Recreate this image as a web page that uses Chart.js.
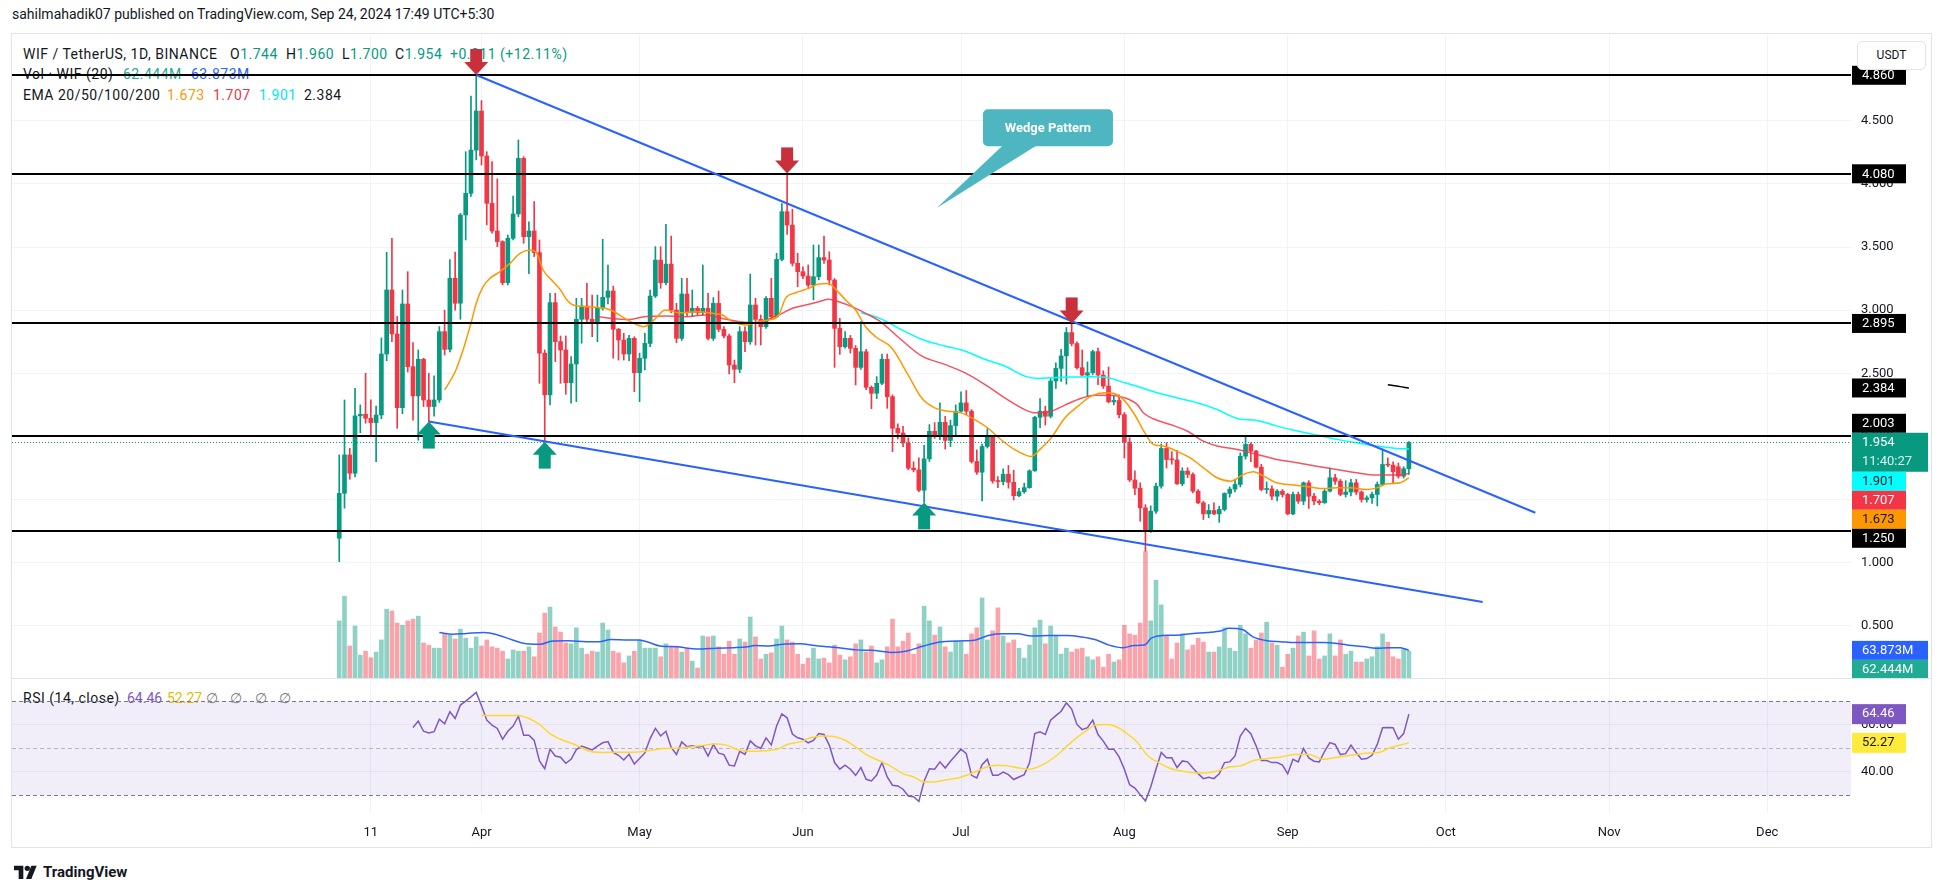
<!DOCTYPE html>
<html>
<head>
<meta charset="utf-8">
<title>WIF / TetherUS 1D</title>
<script src="https://cdn.jsdelivr.net/npm/chart.js@4.4.1/dist/chart.umd.min.js"></script>
<style>
  html, body { margin: 0; padding: 0; background: #fff; }
  body { width: 1946px; height: 893px; position: relative; overflow: hidden; font-family: Roboto, sans-serif; color: #131722; }
  .abs { position: absolute; white-space: nowrap; }
  #byline { left: 12px; top: 6px; font-size: 14px; }
  #frame { left: 11px; top: 33px; width: 1921px; height: 815px; border: 1px solid #e0e3eb; box-sizing: border-box; }
  #sep { left: 12px; top: 678px; width: 1920px; height: 1px; background: #e0e3eb; }
  canvas { position: absolute; z-index: 2; }
  #priceCanvas { left: 12px; top: 35px; }
  #rsiCanvas { left: 12px; top: 678px; }
  .legend { left: 0; font-size: 14px; line-height: 16px; letter-spacing: 0.5px; z-index: 1; }
  .legend span { position: absolute; top: 0; }
  #usdt { left: 1857px; top: 41px; width: 69px; height: 29px; border: 1px solid #e0e3eb; border-radius: 5px; background: #fff;
          box-sizing: border-box; font-size: 12px; line-height: 27px; text-align: center; z-index: 3; }
  #logo { left: 14px; top: 863px; font-size: 15px; font-weight: 700; z-index: 3; }
  #logo svg { vertical-align: -2px; margin-right: 5px; }
</style>
</head>
<body>
<div id="byline" class="abs">sahilmahadik07 published on TradingView.com, Sep 24, 2024 17:49 UTC+5:30</div>
<div id="frame" class="abs"></div>
<div id="sep" class="abs"></div>

<div class="abs legend" style="top:46px">
  <span style="left:23px">WIF / TetherUS, 1D, BINANCE</span>
  <span style="left:230px">O<b id="lgO" style="font-weight:400;color:#089981"></b></span>
  <span style="left:286px">H<b id="lgH" style="font-weight:400;color:#089981"></b></span>
  <span style="left:342px">L<b id="lgL" style="font-weight:400;color:#089981"></b></span>
  <span style="left:395px">C<b id="lgC" style="font-weight:400;color:#089981"></b></span>
  <span style="left:450px;color:#089981">+0.211 (+12.11%)</span>
</div>
<div class="abs legend" style="top:66px">
  <span style="left:23px">Vol · WIF (20)</span>
  <span style="left:123px;color:#22ab94">62.444M</span>
  <span style="left:191px;color:#2962ff">63.873M</span>
</div>
<div class="abs legend" style="top:87px">
  <span style="left:23px">EMA 20/50/100/200</span>
  <span id="lgE20" style="left:167px;color:#ff9800"></span>
  <span id="lgE50" style="left:213px;color:#f23645"></span>
  <span id="lgE100" style="left:259px;color:#00e5ff"></span>
  <span id="lgE200" style="left:304px;color:#131722"></span>
</div>
<div class="abs legend" style="top:690px">
  <span style="left:23px">RSI (14, close)</span>
  <span id="lgRsi" style="left:127px;color:#7e57c2;letter-spacing:0"></span>
  <span id="lgRsiMa" style="left:167px;color:#e0c000;letter-spacing:0"></span>
  <span style="left:206px;color:#787b86;word-spacing:8px">∅ ∅ ∅ ∅</span>
</div>

<canvas id="priceCanvas" width="1920" height="643"></canvas>
<canvas id="rsiCanvas" width="1920" height="170"></canvas>
<div id="usdt" class="abs">USDT</div>
<div id="logo" class="abs"><svg width="24" height="14" viewBox="0 0 36 21"><path d="M14 21H7V8H0V1h14z" fill="#131722"/><circle cx="20" cy="5" r="4" fill="#131722"/><path d="M26 21h-8l8-20h8z" fill="#131722"/></svg>TradingView</div>

<script>
// daily candles, index 0 = 2024-03-05, last index = 2024-09-24
const opens = [1.194,1.55,1.854,1.709,2.163,2.176,2.144,2.11,2.17,2.653,
  3.16,2.812,2.228,3.049,2.553,2.321,2.611,2.289,2.237,2.289,
  2.83,2.69,3.253,3.055,3.754,3.925,4.268,4.577,4.221,3.846,
  3.627,3.543,3.218,3.569,3.762,4.202,3.582,3.627,3.456,2.659,
  2.329,3.06,2.751,2.685,2.426,2.574,2.928,3.033,2.928,2.91,
  3.015,3.102,3.152,2.849,2.764,2.653,2.777,2.505,2.619,2.737,
  3.112,3.397,3.218,3.365,3.001,2.777,3.128,2.98,3.015,2.98,
  3.015,2.777,3.054,2.848,2.796,2.566,2.532,2.83,2.751,3.041,
  2.927,2.869,3.094,2.948,3.402,3.78,3.674,3.371,3.305,3.27,
  3.199,3.265,3.416,3.397,3.239,2.856,2.711,2.777,2.698,2.547,
  2.671,2.389,2.342,2.421,2.611,2.315,2.065,2.028,1.948,1.749,
  1.736,1.574,1.823,2.041,2.001,2.112,1.969,2.086,2.2,2.266,
  2.2,1.802,1.717,1.921,2.001,1.648,1.643,1.701,1.637,1.531,
  1.563,1.595,1.728,2.152,2.2,2.16,2.439,2.539,2.638,2.823,
  2.736,2.545,2.486,2.505,2.672,2.486,2.399,2.274,2.285,2.173,
  1.956,1.656,1.59,1.435,1.25,1.408,1.607,1.905,1.818,1.815,
  1.625,1.726,1.699,1.567,1.475,1.387,1.414,1.387,1.422,1.549,
  1.583,1.62,1.844,1.937,1.884,1.757,1.58,1.585,1.527,1.567,
  1.541,1.387,1.541,1.488,1.633,1.527,1.488,1.475,1.567,1.673,
  1.646,1.541,1.56,1.633,1.56,1.501,1.514,1.541,1.62,1.778,
  1.773,1.76,1.686,1.744];
const highs = [1.854,2.289,1.907,2.382,2.25,2.50,2.29,2.24,2.78,3.458,
  3.569,2.95,3.16,3.305,2.743,2.685,2.62,2.50,2.48,2.87,
  3.0,3.40,3.46,3.767,4.255,4.696,4.862,4.66,4.255,4.176,
  4.04,3.55,3.595,3.904,4.348,4.216,3.70,3.86,3.556,2.685,
  3.134,3.134,2.796,2.796,2.632,3.094,3.094,3.213,3.12,3.12,
  3.561,3.358,3.19,2.856,2.817,2.80,2.79,2.66,2.817,3.16,
  3.503,3.503,3.68,3.587,3.054,3.252,3.252,3.16,3.03,3.358,
  3.133,3.1,3.152,2.87,2.81,2.605,2.869,2.869,3.286,3.094,
  2.962,3.107,3.252,3.45,3.845,4.083,3.80,3.45,3.344,3.358,
  3.516,3.516,3.587,3.463,3.25,2.935,2.83,2.80,2.72,2.909,
  2.69,2.40,2.474,2.653,2.653,2.33,2.10,2.08,1.99,1.80,
  1.83,1.93,2.094,2.11,2.266,2.16,2.13,2.25,2.354,2.364,
  2.213,1.894,1.94,2.062,2.009,1.683,1.744,1.77,1.733,1.59,
  1.63,1.736,2.16,2.30,2.24,2.465,2.584,2.69,2.863,2.895,
  2.75,2.685,2.59,2.683,2.70,2.52,2.55,2.32,2.33,2.19,
  1.99,1.728,1.633,1.46,1.45,1.63,1.94,1.95,1.88,1.89,
  1.752,1.752,1.712,1.58,1.488,1.461,1.475,1.448,1.554,1.60,
  1.66,1.87,2.003,1.95,1.89,1.78,1.64,1.61,1.58,1.58,
  1.55,1.56,1.56,1.64,1.65,1.55,1.50,1.58,1.75,1.70,
  1.66,1.65,1.66,1.66,1.57,1.53,1.56,1.64,1.90,1.83,
  1.80,1.79,1.76,1.96];
const lows = [1.009,1.432,1.661,1.68,2.03,2.105,2.0,1.80,2.14,2.6,
  2.75,2.065,2.18,2.51,2.13,1.97,2.237,2.118,2.16,2.27,
  2.645,2.67,3.0,2.928,3.556,3.9,4.19,4.15,3.675,3.61,
  3.503,3.20,3.20,3.556,3.74,3.53,3.29,3.424,2.421,1.959,
  2.25,2.593,2.421,2.334,2.263,2.276,2.738,2.91,2.79,2.75,
  3.0,3.05,2.62,2.605,2.605,2.6,2.355,2.276,2.526,2.711,
  3.1,3.173,3.2,2.98,2.743,2.76,2.954,2.95,2.96,2.96,
  2.764,2.76,2.83,2.78,2.495,2.426,2.505,2.671,2.73,2.724,
  2.724,2.856,2.93,2.94,3.39,3.6,3.35,3.186,3.25,3.18,
  3.081,3.24,3.37,3.2,2.547,2.65,2.7,2.66,2.408,2.53,
  2.37,2.22,2.3,2.41,2.223,1.88,1.98,1.92,1.736,1.72,
  1.563,1.478,1.802,1.985,1.975,1.90,1.92,2.01,2.19,2.173,
  1.79,1.70,1.489,1.908,1.63,1.595,1.616,1.59,1.497,1.523,
  1.55,1.59,1.723,2.07,2.09,2.147,2.38,2.436,2.414,2.717,
  2.532,2.48,2.32,2.49,2.41,2.38,2.266,2.25,2.147,1.83,
  1.643,1.54,1.33,1.09,1.24,1.39,1.59,1.75,1.78,1.62,
  1.61,1.673,1.554,1.467,1.342,1.356,1.38,1.32,1.41,1.52,
  1.56,1.60,1.82,1.80,1.75,1.57,1.55,1.50,1.49,1.52,
  1.38,1.38,1.47,1.46,1.43,1.46,1.46,1.47,1.56,1.62,
  1.53,1.52,1.53,1.54,1.48,1.48,1.47,1.45,1.61,1.76,
  1.63,1.67,1.67,1.70];
const closes = [1.55,1.854,1.709,2.163,2.176,2.144,2.11,2.17,2.653,3.16,
  2.812,2.228,3.049,2.553,2.321,2.611,2.289,2.237,2.289,2.83,
  2.69,3.253,3.055,3.754,3.925,4.268,4.577,4.221,3.846,3.627,
  3.543,3.218,3.569,3.762,4.202,3.582,3.627,3.456,2.659,2.329,
  3.06,2.751,2.685,2.426,2.574,2.928,3.033,2.928,2.91,3.015,
  3.102,3.152,2.849,2.764,2.653,2.777,2.505,2.619,2.737,3.112,
  3.397,3.218,3.365,3.001,2.777,3.128,2.98,3.015,2.98,3.015,
  2.777,3.054,2.848,2.796,2.566,2.532,2.83,2.751,3.041,2.927,
  2.869,3.094,2.948,3.402,3.78,3.674,3.371,3.305,3.27,3.199,
  3.265,3.416,3.397,3.239,2.856,2.711,2.777,2.698,2.547,2.671,
  2.389,2.342,2.421,2.611,2.315,2.065,2.028,1.948,1.749,1.736,
  1.574,1.823,2.041,2.001,2.112,1.969,2.086,2.2,2.266,2.2,
  1.802,1.717,1.921,2.001,1.648,1.643,1.701,1.637,1.531,1.563,
  1.595,1.728,2.152,2.2,2.16,2.439,2.539,2.638,2.823,2.736,
  2.545,2.486,2.505,2.672,2.486,2.399,2.274,2.285,2.173,1.956,
  1.656,1.59,1.435,1.25,1.408,1.607,1.905,1.818,1.815,1.625,
  1.726,1.699,1.567,1.475,1.387,1.414,1.387,1.422,1.549,1.583,
  1.62,1.844,1.937,1.884,1.757,1.58,1.585,1.527,1.567,1.541,
  1.387,1.541,1.488,1.633,1.527,1.488,1.475,1.567,1.673,1.646,
  1.541,1.56,1.633,1.56,1.501,1.514,1.541,1.62,1.778,1.773,
  1.72,1.686,1.744,1.954];
// volume in millions
const volumes = [132,189,74,120,53,62,47,60,88,159,
  155,127,122,132,136,143,81,76,69,69,
  102,99,90,113,92,69,95,74,88,72,
  69,62,44,65,62,62,72,49,104,150,
  164,118,106,81,79,116,69,55,62,60,
  127,111,62,58,35,51,62,88,69,69,
  69,49,79,72,72,60,67,39,23,97,
  95,97,72,55,85,55,90,83,141,95,
  44,55,58,90,120,88,83,55,32,46,
  69,44,46,35,76,53,42,49,79,88,
  60,74,35,42,72,136,72,85,104,55,
  79,166,132,99,118,72,60,85,85,55,
  102,116,185,88,109,162,97,81,88,69,
  46,76,116,134,79,120,99,55,69,60,
  67,69,49,42,49,25,55,37,42,122,
  102,99,127,292,132,226,169,99,44,81,
  102,65,76,92,83,60,60,72,116,69,
  62,122,102,69,88,104,129,81,76,25,
  55,69,97,106,51,109,44,51,102,51,
  88,55,62,37,37,44,49,72,102,83,
  49,44,67,62.444];
// indicator lines: [day index, value]
const volMa = [[19,105],[21.5,101],[24.2,103],[27.5,105],[30.2,99],[32.9,88],[35.5,79],[38.2,78],[40.2,85],[43.5,86],
  [46.9,84],[49.5,84],[51.5,89],[54.9,88],[56.9,88],[58.8,82],[60.9,74],[64.2,72],[66.2,69],[68.9,67],[71.5,69],
  [74.8,70],[77.5,72],[78.8,75],[81.5,74],[84.2,78],[87.5,79],[90.2,75],[92.8,72],[95.5,69],[98.2,65],[100.8,64],
  [102.8,62],[104.8,59],[107.5,62],[110.9,74],[113.5,82],[116.1,85],[118.8,86],[120.8,88],[123.4,99],[126,102],
  [128.8,102],[131.4,97],[134.8,98],[138.1,98],[140.8,95],[143.4,89],[146.1,76],[148.8,70],[150.8,75],[152.8,76],
  [154.1,92],[156.1,98],[158.8,99],[162.1,103],[164.8,105],[167.4,109],[168.8,115],[171.4,112],[173.4,95],
  [176.1,86],[178.7,84],[181.4,82],[184,82],[186.7,82],[189.4,80],[192.1,75],[194.7,72],[196.7,69],[199.4,70],
  [201.4,70],[203,63.873]];
const ema20 = [[20,2.368],[22,2.513],[23.5,2.685],[25,2.896],[26,3.055],[27.3,3.186],[28.6,3.252],[30.5,3.305],
  [32.4,3.371],[34.3,3.45],[36.2,3.477],[37.5,3.45],[38.7,3.318],[40.6,3.226],[42,3.16],[43.2,3.081],[44.4,3.041],
  [47,3.028],[49.5,3.02],[51.6,3.0],[54.2,2.935],[55.9,2.896],[57.8,2.869],[59.7,2.922],[61.9,3.001],[64.4,2.98],
  [68.2,2.988],[70.8,2.975],[72.7,2.962],[74.6,2.909],[77.2,2.883],[79.6,2.909],[81.5,2.922],[83.4,2.962],
  [84.7,3.094],[86.6,3.138],[89.1,3.173],[91,3.207],[92.9,3.212],[94.2,3.165],[96.1,3.081],[98,3.001],
  [99.9,2.869],[101.8,2.79],[104.8,2.704],[107.9,2.492],[110.5,2.306],[113,2.226],[115.5,2.2],[118,2.187],
  [120.6,2.134],[123.1,2.067],[125.6,1.974],[128.2,1.895],[130.1,1.855],[131.3,1.842],[133.2,1.908],[135.1,1.988],
  [137.7,2.147],[140.2,2.24],[142.7,2.319],[145.3,2.346],[147.2,2.338],[149.1,2.28],[151,2.17],[152.7,2.043],
  [154.5,1.937],[156.4,1.924],[158.9,1.884],[161.5,1.831],[164,1.752],[166.6,1.673],[169.1,1.646],[171.6,1.699],
  [173.5,1.72],[175.4,1.686],[177.9,1.633],[181.1,1.615],[184.3,1.599],[186.8,1.588],[189.3,1.593],[191.9,1.593],
  [195,1.58],[196.9,1.593],[198.8,1.625],[201.4,1.633],[203,1.673]];
const ema50 = [[49,2.95],[51.8,2.935],[55.2,2.927],[57.8,2.948],[61.9,2.954],[65.7,2.948],[69.5,2.962],[72.7,2.935],
  [75.9,2.909],[79,2.901],[81,2.922],[83.4,2.962],[86,3.015],[88.5,3.041],[91,3.067],[92.9,3.086],[94.8,3.067],
  [97.3,3.028],[99.9,2.975],[102.5,2.915],[106,2.79],[110.5,2.638],[114.9,2.571],[118.7,2.505],[122.5,2.412],
  [126.3,2.306],[130.1,2.213],[132,2.187],[135.1,2.2],[137.7,2.248],[140.2,2.293],[143.4,2.327],[146.5,2.327],
  [149.1,2.306],[151.5,2.25],[152.6,2.188],[154.5,2.14],[157.7,2.095],[160.9,2.043],[164,1.963],[166.6,1.924],
  [170.4,1.897],[174.2,1.858],[178,1.818],[181.8,1.792],[185.5,1.765],[189.3,1.739],[193.1,1.712],[196.9,1.694],
  [199.5,1.694],[202,1.699],[203,1.707]];
const ema100 = [[99,2.98],[101.8,2.948],[104.3,2.9],[106,2.86],[110.5,2.77],[114.9,2.717],[118.7,2.677],
  [122.5,2.611],[126.3,2.558],[130.1,2.478],[132.6,2.46],[135.1,2.465],[138.9,2.47],[142.7,2.473],[145.9,2.465],
  [149.1,2.425],[152,2.39],[155.2,2.346],[158.9,2.307],[162.8,2.267],[166.6,2.214],[170.4,2.143],[174.2,2.127],
  [178,2.082],[181.8,2.043],[185.5,2.011],[189.3,1.977],[193.1,1.95],[196.9,1.924],[200.7,1.905],[203,1.901]];
const ema200 = [[199,2.41],[200,2.404],[201,2.397],[202,2.39],[203,2.384]];
// RSI(14), daily from day 14
const rsiStart = 14;
const rsi = [58.8,61.5,57.2,56.5,57.0,62.3,60.4,65.5,62.6,68.3,
  70.0,71.8,73.7,68.0,61.9,59.8,58.4,53.8,57.2,59.4,
  63.6,55.5,55.5,53.3,44.6,41.3,49.6,46.7,46.2,43.6,
  45.3,49.4,50.9,50.1,49.3,50.9,52.3,52.8,48.2,47.0,
  45.0,47.4,43.3,45.6,48.0,54.1,58.4,55.2,57.2,50.3,
  47.3,52.7,50.6,51.0,50.4,50.9,46.7,51.6,47.9,47.3,
  42.8,42.5,48.7,47.4,53.1,51.0,49.9,54.4,51.4,59.4,
  64.6,62.9,56.0,54.4,53.8,52.3,53.3,56.2,55.8,51.3,
  43.9,41.1,42.8,41.1,38.5,41.8,36.8,36.1,38.6,
  43.9,37.8,34.3,34.0,32.6,29.7,29.4,27.4,36.0,41.3,
  41.1,44.2,41.6,44.5,47.0,49.6,47.7,38.5,37.4,43.0,
  45.3,38.5,38.5,39.9,38.8,36.7,37.8,38.8,43.8,56.2,
  57.0,55.8,61.9,63.8,65.7,69.3,66.6,60.1,57.9,58.7,
  61.9,55.8,53.0,49.6,49.6,46.3,41.1,34.5,33.1,30.3,
  27.6,33.5,41.1,48.2,45.9,45.9,41.8,44.6,44.2,41.6,
  39.2,37.1,37.7,37.1,39.1,43.9,44.2,46.7,55.2,58.4,
  56.2,51.0,44.8,44.8,43.9,43.9,42.8,39.1,45.3,44.2,
  49.9,45.9,44.5,44.2,48.7,52.4,51.6,47.3,47.7,51.3,
  48.2,45.3,45.6,47.0,51.6,58.7,58.8,58.7,53.8,56.2,
  64.46];
const rsiMa = [[27,63.9],[30,63.9],[34,63.9],[36,62.6],[38,60.1],[40,56.2],[42,53.8],[45,51.3],[47.5,48.7],[50,48.2],
  [53,48.3],[55.5,48.3],[58,48.7],[61.5,49.9],[65,50.1],[68,50.9],[71.5,51.8],[73.5,51.3],[76,49.1],[78,48.7],
  [81.5,49.0],[83.5,49.9],[85,51.6],[87.5,52.7],[89.5,54.4],[91.5,55.2],[93.5,55.1],[96,53.4],[98,50.6],[100,47.3],
  [102.3,44.9],[104.3,42.8],[107,39.2],[109,37.8],[111,35.7],[113,35.7],[115,36.5],[117.6,37.5],[120.3,39.6],
  [123,42.1],[125,42.8],[127,42.5],[129,41.6],[131,41.1],[133.6,43.1],[136.2,47.0],[139,52.7],[141.5,57.0],
  [143.5,59.8],[145.5,60.1],[147.5,59.1],[149.5,56.2],[151.5,52.4],[153.5,46.7],[155.5,43.9],[157.5,41.6],
  [160,40.2],[163,39.5],[165,39.6],[167,40.5],[169,42.1],[171,42.5],[173.5,44.8],[176,45.6],[178.7,46.3],
  [181.4,47.3],[184,47.3],[186.7,45.3],[189.4,46.2],[192,47.0],[194.7,47.9],[197.3,48.2],[199.3,50.1],
  [201.3,51.3],[203,52.27]];
// drawings on the chart
const levels = [4.86, 4.08, 2.895, 2.003, 1.25];
const wedgeUpper = [[26, 4.862], [227, 1.396]];
const wedgeLower = [[17, 2.118], [217, 0.69]];
const topArrows = [[26, 4.862], [85, 4.083], [139, 2.895]];
const bottomArrows = [[17, 2.118], [39, 1.959], [111, 1.478]];
const callout = { text: 'Wedge Pattern', box: [134.5, 4.444], tip: [113.4, 3.81] };
const countdown = '11:40:27';
// axes
const monthTicks = [6, 27, 57, 88, 118, 149, 180, 210, 241, 271];
const monthLabels = ['11', 'Apr', 'May', 'Jun', 'Jul', 'Aug', 'Sep', 'Oct', 'Nov', 'Dec'];
const priceTicks = [0.5, 1, 1.5, 2, 2.5, 3, 3.5, 4, 4.5];
const xMin = -62.1, xMax = 286.9;

const UP = '#089981', DOWN = '#F23645';
const last = closes.length - 1;
const isUp = closes.map((c, i) => c >= opens[i]);
const candleColors = isUp.map(u => u ? UP : DOWN);
const volColors = isUp.map(u => u ? 'rgba(8,153,129,0.45)' : 'rgba(242,54,69,0.45)');
const pts = arr => arr.map(([x, y]) => ({ x, y }));

Chart.defaults.font.family = 'Roboto, sans-serif';
Chart.defaults.color = '#131722';

// legend text
document.getElementById('lgO').textContent = opens[last].toFixed(3);
document.getElementById('lgH').textContent = highs[last].toFixed(3);
document.getElementById('lgL').textContent = lows[last].toFixed(3);
document.getElementById('lgC').textContent = closes[last].toFixed(3);
document.getElementById('lgE20').textContent = ema20[ema20.length - 1][1].toFixed(3);
document.getElementById('lgE50').textContent = ema50[ema50.length - 1][1].toFixed(3);
document.getElementById('lgE100').textContent = ema100[ema100.length - 1][1].toFixed(3);
document.getElementById('lgE200').textContent = ema200[ema200.length - 1][1].toFixed(3);
document.getElementById('lgRsi').textContent = rsi[rsi.length - 1].toFixed(2);
document.getElementById('lgRsiMa').textContent = rsiMa[rsiMa.length - 1][1].toFixed(2);

function drawTag(ctx, x, top, w, h, bg, lines, fg) {
  ctx.fillStyle = bg;
  ctx.fillRect(x, top, w, h);
  ctx.fillStyle = fg;
  ctx.font = '13px Roboto, sans-serif';
  ctx.textBaseline = 'middle';
  ctx.textAlign = 'left';
  lines.forEach((t, i) => {
    if (i > 0) ctx.globalAlpha = 0.85;
    ctx.fillText(t, x + 10, top + 10 + i * 19);
    ctx.globalAlpha = 1;
  });
}

function stackTags(list) {
  list.sort((a, b) => a.yc - b.yc);
  list.forEach(t => { t.h = t.lines.length > 1 ? 39 : 19; t.top = t.yc - 9.5; });
  const ai = list.findIndex(t => t.anchor);
  for (let i = ai - 1; i >= 0; i--) {
    const lim = list[i + 1].top;
    if (list[i].top + list[i].h > lim) list[i].top = lim - list[i].h;
  }
  for (let i = ai + 1; i < list.length; i++) {
    const lim = list[i - 1].top + list[i - 1].h;
    if (list[i].top < lim) list[i].top = lim;
  }
  return list;
}

// keep the plot area flush with the canvas edges
const fitY = s => { s.width = 81; s.paddingTop = 0; s.paddingBottom = 0; };
const fitX = h => s => { s.height = h; s.paddingLeft = 0; s.paddingRight = 0; };

const drawings = {
  id: 'drawings',
  afterDatasetsDraw(chart) {
    const { ctx, chartArea: a, scales: { x, y } } = chart;
    ctx.save();
    ctx.beginPath();
    ctx.rect(a.left, a.top, a.right - a.left, a.bottom - a.top);
    ctx.clip();

    // last price dotted line
    const cy = Math.round(y.getPixelForValue(closes[last])) + 0.5;
    ctx.strokeStyle = UP; ctx.lineWidth = 1; ctx.setLineDash([1, 2]);
    ctx.beginPath(); ctx.moveTo(a.left, cy); ctx.lineTo(a.right, cy); ctx.stroke();
    ctx.setLineDash([]);

    // horizontal levels
    ctx.strokeStyle = '#000'; ctx.lineWidth = 2;
    levels.forEach(v => {
      const py = Math.round(y.getPixelForValue(v));
      ctx.beginPath(); ctx.moveTo(a.left, py); ctx.lineTo(a.right, py); ctx.stroke();
    });

    // wedge
    ctx.strokeStyle = '#2962FF'; ctx.lineWidth = 2;
    [wedgeUpper, wedgeLower].forEach(seg => {
      ctx.beginPath();
      ctx.moveTo(x.getPixelForValue(seg[0][0]), y.getPixelForValue(seg[0][1]));
      ctx.lineTo(x.getPixelForValue(seg[1][0]), y.getPixelForValue(seg[1][1]));
      ctx.stroke();
    });

    // arrows
    ctx.fillStyle = '#C8303B';
    topArrows.forEach(([d, v]) => {
      const px = x.getPixelForValue(d), py = y.getPixelForValue(v);
      ctx.fillRect(px - 6, py - 26, 12, 14);
      ctx.beginPath(); ctx.moveTo(px - 12, py - 13); ctx.lineTo(px + 12, py - 13); ctx.lineTo(px, py); ctx.closePath(); ctx.fill();
    });
    ctx.fillStyle = UP;
    bottomArrows.forEach(([d, v]) => {
      const px = x.getPixelForValue(d), py = y.getPixelForValue(v);
      ctx.fillRect(px - 6, py + 12, 12, 15);
      ctx.beginPath(); ctx.moveTo(px - 12, py + 13); ctx.lineTo(px + 12, py + 13); ctx.lineTo(px, py); ctx.closePath(); ctx.fill();
    });

    // callout
    const bw = 130, bh = 37;
    const bx = x.getPixelForValue(callout.box[0]) - bw / 2;
    const by = y.getPixelForValue(callout.box[1]) - bh / 2;
    const tx = x.getPixelForValue(callout.tip[0]), ty = y.getPixelForValue(callout.tip[1]);
    ctx.fillStyle = '#4DB6C1';
    ctx.beginPath(); ctx.moveTo(bx + 20, by + bh - 1); ctx.lineTo(bx + 54, by + bh - 1); ctx.lineTo(tx, ty); ctx.closePath(); ctx.fill();
    ctx.beginPath(); ctx.roundRect(bx, by, bw, bh, 5); ctx.fill();
    ctx.fillStyle = '#fff'; ctx.font = '700 13px Roboto, sans-serif';
    ctx.textAlign = 'center'; ctx.textBaseline = 'middle';
    ctx.fillText(callout.text, bx + bw / 2, by + bh / 2 + 1);
    ctx.restore();
  }
};

const priceTags = {
  id: 'priceTags',
  afterDraw(chart) {
    const { ctx, scales: { y, yVol } } = chart;
    const left = y.left + 1;
    const tags = levels.map(v => ({ yc: y.getPixelForValue(v), bg: '#000', fg: '#fff', lines: [v.toFixed(3)] }));
    tags.push({ yc: y.getPixelForValue(ema200[ema200.length - 1][1]), bg: '#000', fg: '#fff', lines: [ema200[ema200.length - 1][1].toFixed(3)] });
    tags.push({ yc: y.getPixelForValue(ema100[ema100.length - 1][1]), bg: '#00FFFF', fg: '#131722', lines: [ema100[ema100.length - 1][1].toFixed(3)] });
    tags.push({ yc: y.getPixelForValue(ema50[ema50.length - 1][1]), bg: '#F23645', fg: '#fff', lines: [ema50[ema50.length - 1][1].toFixed(3)] });
    tags.push({ yc: y.getPixelForValue(ema20[ema20.length - 1][1]), bg: '#FF9800', fg: '#131722', lines: [ema20[ema20.length - 1][1].toFixed(3)] });
    tags.push({ yc: y.getPixelForValue(closes[last]), bg: UP, fg: '#fff', lines: [closes[last].toFixed(3), countdown], anchor: true, wide: true });
    stackTags(tags).forEach(t => drawTag(ctx, left, t.top, t.wide ? 76 : 54, t.h, t.bg, t.lines, t.fg));

    const vMa = volMa[volMa.length - 1][1], vLast = volumes[last];
    const vt = [
      { yc: yVol.getPixelForValue(vMa), bg: '#2962FF', fg: '#fff', lines: [vMa.toFixed(3) + 'M'], anchor: true },
      { yc: yVol.getPixelForValue(vLast) + 0.1, bg: '#22AB94', fg: '#fff', lines: [vLast.toFixed(3) + 'M'] }
    ];
    stackTags(vt).forEach(t => drawTag(ctx, left, t.top, 76, t.h, t.bg, t.lines, t.fg));
  }
};

const lineDs = (data, color, axis, order, width) => ({
  type: 'line', data: pts(data), yAxisID: axis, borderColor: color, borderWidth: width || 1.5,
  pointRadius: 0, cubicInterpolationMode: 'monotone', order
});

new Chart(document.getElementById('priceCanvas'), {
  type: 'bar',
  data: {
    datasets: [
      { data: volumes.map((v, i) => ({ x: i, y: v })), yAxisID: 'yVol', backgroundColor: volColors,
        barThickness: 4, grouped: false, order: 10 },
      lineDs(volMa, '#2962FF', 'yVol', 9),
      { data: lows.map((l, i) => ({ x: i, y: [l, highs[i]] })), yAxisID: 'y', backgroundColor: candleColors,
        barThickness: 1, grouped: false, order: 6 },
      { data: opens.map((o, i) => ({ x: i, y: [o, closes[i]] })), yAxisID: 'y', backgroundColor: candleColors,
        barThickness: 4, minBarLength: 1, grouped: false, order: 5 },
      lineDs(ema200, '#000000', 'y', 4),
      lineDs(ema100, '#00FFFF', 'y', 3),
      lineDs(ema50, 'rgba(242,54,69,0.85)', 'y', 2),
      lineDs(ema20, '#FF9800', 'y', 1)
    ]
  },
  options: {
    responsive: false, animation: false, events: [],
    layout: { padding: 0 },
    plugins: { legend: { display: false }, tooltip: { enabled: false } },
    scales: {
      x: { type: 'linear', min: xMin, max: xMax, offset: false,
        grid: { color: '#f0f3fa', drawTicks: false, offset: false }, border: { display: false },
        ticks: { display: false },
        afterBuildTicks: s => { s.ticks = monthTicks.map(v => ({ value: v })); },
        afterFit: fitX(0) },
      y: { position: 'right', min: 0.0875, max: 5.179,
        grid: { color: '#f0f3fa', drawTicks: false }, border: { display: false },
        ticks: { padding: 10, color: '#131722', font: { size: 13 }, callback: v => Number(v).toFixed(3) },
        afterBuildTicks: s => { s.ticks = priceTicks.map(v => ({ value: v })); },
        afterFit: fitY },
      yVol: { display: false, min: 0, max: 1486 }
    }
  },
  plugins: [drawings, priceTags]
});

const rsiBands = {
  id: 'rsiBands',
  beforeDatasetsDraw(chart) {
    const { ctx, chartArea: a, scales: { y } } = chart;
    const y70 = y.getPixelForValue(70), y50 = y.getPixelForValue(50), y30 = y.getPixelForValue(30);
    ctx.save();
    ctx.fillStyle = 'rgba(126,87,194,0.1)';
    ctx.fillRect(a.left, y70, a.right - a.left, y30 - y70);
    ctx.lineWidth = 1; ctx.setLineDash([4, 3]);
    [[y70, '#787B86'], [y30, '#787B86'], [y50, 'rgba(120,123,134,0.5)']].forEach(([py, c]) => {
      ctx.strokeStyle = c;
      ctx.beginPath(); ctx.moveTo(a.left, Math.round(py) + 0.5); ctx.lineTo(a.right, Math.round(py) + 0.5); ctx.stroke();
    });
    ctx.restore();
  },
  afterDraw(chart) {
    const { ctx, scales: { y } } = chart;
    const lastMa = rsiMa[rsiMa.length - 1][1];
    drawTag(ctx, y.left + 1, y.getPixelForValue(rsi[rsi.length - 1]) - 10, 54, 20, '#7E57C2', [rsi[rsi.length - 1].toFixed(2)], '#fff');
    drawTag(ctx, y.left + 1, y.getPixelForValue(lastMa) - 10, 54, 20, '#FFEB3B', [lastMa.toFixed(2)], '#131722');
  }
};

new Chart(document.getElementById('rsiCanvas'), {
  type: 'line',
  data: {
    datasets: [
      { data: rsi.map((v, i) => ({ x: rsiStart + i, y: v })), borderColor: '#7E57C2', borderWidth: 1.5, pointRadius: 0, order: 2 },
      { data: pts(rsiMa), borderColor: '#FDD835', borderWidth: 1.5, pointRadius: 0, cubicInterpolationMode: 'monotone', order: 1 }
    ]
  },
  options: {
    responsive: false, animation: false, events: [],
    layout: { padding: 0 },
    plugins: { legend: { display: false }, tooltip: { enabled: false } },
    scales: {
      x: { type: 'linear', min: xMin, max: xMax,
        grid: { color: '#f0f3fa', drawTicks: false }, border: { display: false },
        ticks: { padding: 12, color: '#131722', font: { size: 13 }, maxRotation: 0, autoSkip: false,
          callback: v => { const k = monthTicks.indexOf(v); return k >= 0 ? monthLabels[k] : ''; } },
        afterBuildTicks: s => { s.ticks = monthTicks.map(v => ({ value: v })); },
        afterFit: fitX(35) },
      y: { position: 'right', min: 22.5, max: 79.8,
        grid: { color: 'rgba(42,46,57,0.06)', drawTicks: false }, border: { display: false },
        ticks: { padding: 10, color: '#131722', font: { size: 13 }, callback: v => Number(v).toFixed(2) },
        afterBuildTicks: s => { s.ticks = [{ value: 40 }, { value: 60 }]; },
        afterFit: fitY }
    }
  },
  plugins: [rsiBands]
});
</script>
</body>
</html>
